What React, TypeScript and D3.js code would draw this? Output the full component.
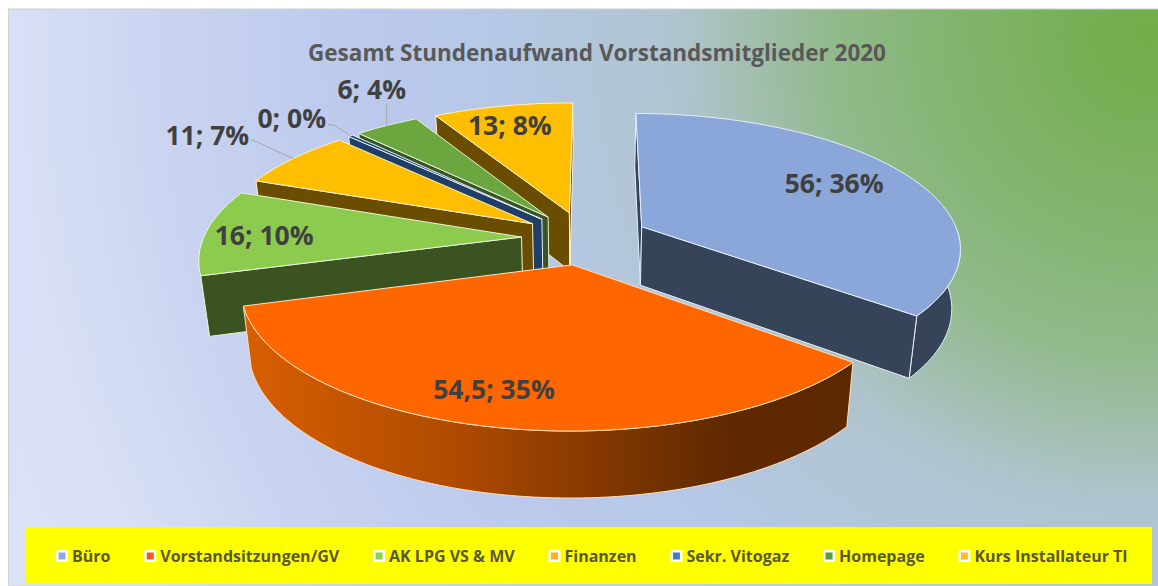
import React, { useMemo } from "react";
import * as d3 from "d3";

const categories = ["Büro", "Vorstandsitzungen/GV", "AK LPG VS & MV", "Finanzen", "Sekr. Vitogaz", "Homepage", "Kurs Installateur TI"];
const values = [56, 54.5, 16, 11, 0.45, 6, 13];
const valueLabels = ["56", "54,5", "16", "11", "0", "6", "13"];
const percentLabels = ["36%", "35%", "10%", "7%", "0%", "4%", "8%"];
const topColors = ["#8BA6D9", "#FF6600", "#8CCB4E", "#FFBE00", "#1F4B78", "#6BA63F", "#FFBE00"];
const sideColors = ["#36445A", "url(#rimOrange)", "#3B5320", "#6B4D00", "#1F3F66", "#375623", "#6B4D00"];
const strokeColors = ["#E8EEF8", "#FFE0C0", "#EAF4DC", "#FFF2CC", "#E8EEF8", "#E6F0DC", "#FFF2CC"];
const legendColors = ["#8FAADC", "#F4581C", "#92CF50", "#FFB11A", "#3F80C8", "#5A9A40", "#FFBE1A"];
const title = "Gesamt Stundenaufwand Vorstandsmitglieder 2020";

// layout of the 3D projection
const W = 1158, H = 586;
const cx = 585, cy = 238, rx = 318, ry = 133, persp = 0.147;
const explode = 0.2, depth = 59, depthPersp = 0.1, baseScale = 0.977;
const rotation = (0.3 * Math.PI) / 180;

// label placement, relative to the slice's rim point on its bisector
const labelOffsets = [[-71, 9], [-1, -38], [58, 3], [-86, -24], [-59, -18], [-15, -37], [7, 19]];
const leaders: (number[][] | null)[] = [null, null, null, [[-42, -19], [0, 0]], [[-23, -11], [-17, -11], [0, 0]], [[0, -22], [0, 0]], null];

const FONT = "'Open Sans', 'Noto Sans', sans-serif";

function top(X: number, Y: number): [number, number] {
  const w = 1 + persp * Y;
  return [cx + (rx * X) / w, cy - (ry * Y) / w];
}
function bottom(X: number, Y: number): [number, number] {
  const p = top(X, Y);
  return [cx + (p[0] - cx) * baseScale, p[1] + depth / (1 + depthPersp * Y)];
}

function measure(text: string, font: string) {
  const c = document.createElement("canvas").getContext("2d")!;
  c.font = font;
  return c.measureText(text).width;
}

const line = d3.line();

export default function App() {
  const arcs = useMemo(
    () => d3.pie<number>().sort(null).startAngle(rotation).endAngle(rotation + 2 * Math.PI)(values),
    []
  );

  const slices = arcs.map((a, i) => {
    const mid = (a.startAngle + a.endAngle) / 2;
    const ox = explode * Math.sin(mid), oy = explode * Math.cos(mid);
    const apexT = top(ox, oy), apexB = bottom(ox, oy);
    const at = (f: typeof top, t: number) => f(ox + Math.sin(t), oy + Math.cos(t));
    const startFace = [apexT, at(top, a.startAngle), at(bottom, a.startAngle), apexB] as [number, number][];
    const endFace = [apexT, at(top, a.endAngle), at(bottom, a.endAngle), apexB] as [number, number][];

    const n = Math.max(2, Math.ceil((a.endAngle - a.startAngle) * 40));
    const thetas = d3.range(n + 1).map((j) => a.startAngle + ((a.endAngle - a.startAngle) * j) / n);
    // the outer wall only faces the viewer on the front half of the circle
    const front = thetas.filter((t) => Math.cos(t) <= 0);
    const topRim = thetas.map((t) => at(top, t));
    const frontTop = front.map((t) => at(top, t));
    const frontBot = front.map((t) => at(bottom, t));
    const anchor = top(ox + Math.sin(mid), oy + Math.cos(mid));
    return {
      i, mid,
      topPath: line([apexT, ...topRim])! + "Z",
      rimPath: front.length > 1 ? line([...frontTop, ...frontBot.slice().reverse()])! + "Z" : null,
      startPath: d3.polygonArea(startFace) > 0 ? line(startFace)! + "Z" : null,
      endPath: d3.polygonArea(endFace) < 0 ? line(endFace)! + "Z" : null,
      anchor,
    };
  });
  const order = slices.slice().sort((a, b) => Math.cos(b.mid) - Math.cos(a.mid));

  // legend flow
  const legendFont = `700 16px ${FONT}`;
  let lx = 56;
  const legend = categories.map((c, i) => {
    const item = { c, i, x: lx };
    lx += 16 + measure(c, legendFont) + 33.8;
    return item;
  });

  return (
    <svg width={W} height={H} style={{ position: "absolute", left: 0, top: 0, background: "#fff" }}>
      <defs>
        <radialGradient id="bg" gradientUnits="userSpaceOnUse" cx={1148} cy={35} r={1300}>
          <stop offset="0" stopColor="#70AD47" />
          <stop offset="0.17" stopColor="#85B574" />
          <stop offset="0.25" stopColor="#93BA8E" />
          <stop offset="0.36" stopColor="#AFC4CE" />
          <stop offset="0.5" stopColor="#B6C8E6" />
          <stop offset="0.6" stopColor="#BBC9EC" />
          <stop offset="0.75" stopColor="#C9D3F0" />
          <stop offset="0.87" stopColor="#D8DFF6" />
          <stop offset="1" stopColor="#DDE3F7" />
        </radialGradient>
        <linearGradient id="rimOrange" gradientUnits="userSpaceOnUse" x1={250} x2={850} y1={0} y2={0}>
          <stop offset="0" stopColor="#D65E00" />
          <stop offset="0.35" stopColor="#AE4A00" />
          <stop offset="0.6" stopColor="#7F3700" />
          <stop offset="0.8" stopColor="#5F2900" />
          <stop offset="1" stopColor="#5C2800" />
        </linearGradient>
      </defs>
      <rect x={8.5} y={9} width={W - 8} height={H - 9} fill="url(#bg)" stroke="#D0D0D0" strokeWidth={1} />
      <text x={597} y={52} textAnchor="middle" dominantBaseline="central" fontFamily={FONT} fontWeight={700} fontSize={22.5} fill="#595959">{title}</text>

      {order.map((s) => (
        <g key={s.i} stroke={strokeColors[s.i]} strokeWidth={1} strokeLinejoin="round">
          {s.rimPath && <path d={s.rimPath} fill={sideColors[s.i]} />}
          {s.startPath && <path d={s.startPath} fill={sideColors[s.i]} />}
          {s.endPath && <path d={s.endPath} fill={sideColors[s.i]} />}
          <path d={s.topPath} fill={topColors[s.i]} />
        </g>
      ))}

      {slices.map((s) => {
        const lead = leaders[s.i];
        return lead ? (
          <path key={s.i} fill="none" stroke="#A6A6A6" strokeWidth={1}
            d={line(lead.map((o) => [s.anchor[0] + o[0], s.anchor[1] + o[1]] as [number, number]))!} />
        ) : null;
      })}
      {slices.map((s) => (
        <text key={s.i} x={s.anchor[0] + labelOffsets[s.i][0]} y={s.anchor[1] + labelOffsets[s.i][1]}
          textAnchor="middle" dominantBaseline="central" fontFamily={FONT} fontWeight={700} fontSize={26.5} fill="#404040">
          {`${valueLabels[s.i]}; ${percentLabels[s.i]}`}
        </text>
      ))}

      <rect x={25} y={527} width={1127} height={57} fill="#FFFF00" />
      {legend.map((l) => (
        <g key={l.i}>
          <rect x={l.x} y={550} width={12} height={12} rx={1.5} fill="#fff" />
          <rect x={l.x + 2.5} y={552.5} width={7} height={7} fill={legendColors[l.i]} />
          <text x={l.x + 16} y={556} dominantBaseline="central" fontFamily={FONT} fontWeight={700} fontSize={16} fill="#595930">{l.c}</text>
        </g>
      ))}
    </svg>
  );
}
